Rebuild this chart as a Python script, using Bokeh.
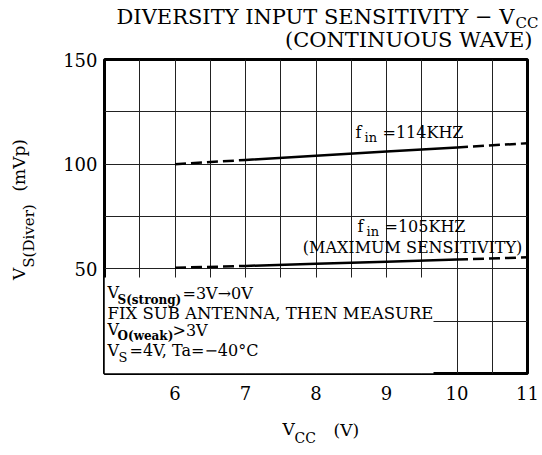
import math
from bokeh.plotting import figure
from bokeh.layouts import column, row
from bokeh.models import Range1d, FixedTicker, SingleIntervalTicker
from bokeh.core.properties import value
from bokeh.embed import file_html
from bokeh.resources import INLINE

# ---- data ----
vcc = [6, 7, 8, 9, 10, 11]
vs_114k = [100.0, 102.0, 104.0, 106.0, 108.0, 110.0]
vs_105k = [50.5, 51.4, 52.4, 53.4, 54.4, 55.5]
x_tick_labels = [6, 7, 8, 9, 10, 11]
y_tick_labels = [50, 100, 150]

FONT = "DejaVu Serif"

TOTAL_W = 540
TOP_H = 51
MID_H = 359
BOT_H = 42
LEFT_W = 48
MAIN_W = TOTAL_W - LEFT_W
BL, BR, BT, BB = 56, 13, 8, 37


def text_fig(w, h):
    f = figure(width=w, height=h, output_backend="svg", toolbar_location=None,
               x_range=Range1d(0, w), y_range=Range1d(0, h),
               x_axis_location=None, y_axis_location=None,
               min_border=0, min_border_left=0, min_border_right=0,
               min_border_top=0, min_border_bottom=0)
    f.grid.visible = False
    f.outline_line_color = None
    f.background_fill_color = "white"
    f.border_fill_color = "white"
    return f


def put(f, ox, oy, h, txt, px, py, size="16px", align="left", angle=0.0, style="normal"):
    f.text(x=[px - ox], y=[h - (py - oy)], text=[txt], text_font=value(FONT),
           text_font_size=value(size), text_align=align, text_baseline="middle",
           angle=angle, text_color="black", text_font_style=value(style))


# ---- title ----
top = text_fig(TOTAL_W, TOP_H)
put(top, 0, 0, TOP_H, "DIVERSITY INPUT SENSITIVITY \u2212 V", 514, 16, size="21px", align="right")
put(top, 0, 0, TOP_H, "CC", 515, 22, size="15px")
put(top, 0, 0, TOP_H, "(CONTINUOUS WAVE)", 532, 39, size="21px", align="right")

# ---- y axis title ----
left = text_fig(LEFT_W, MID_H)
put(left, 0, TOP_H, MID_H, "V", 18, 303, size="17px", angle=math.pi / 2)
put(left, 0, TOP_H, MID_H, "S(Diver)", 28, 289, size="15px", angle=math.pi / 2)
put(left, 0, TOP_H, MID_H, "(mVp)", 18, 202, size="17px", angle=math.pi / 2)

# ---- main chart ----
p = figure(width=MAIN_W, height=MID_H, output_backend="svg", toolbar_location=None,
           x_range=Range1d(5, 11), y_range=Range1d(0, 150),
           min_border_left=BL, min_border_right=BR, min_border_top=BT,
           min_border_bottom=BB)
p.background_fill_color = "white"
p.border_fill_color = "white"
p.outline_line_color = "black"
p.outline_line_width = 3
p.outline_line_alpha = 1

for ax in (p.xaxis[0], p.yaxis[0]):
    ax.axis_line_color = None
    ax.major_tick_line_color = None
    ax.minor_tick_line_color = None
    ax.major_tick_out = 0
    ax.major_tick_in = 0
    ax.major_label_text_font = FONT
    ax.major_label_text_font_size = "18px"
    ax.major_label_text_color = "black"
p.xaxis.ticker = FixedTicker(ticks=x_tick_labels)
p.yaxis.ticker = FixedTicker(ticks=y_tick_labels)
p.xaxis.major_label_standoff = 12
p.yaxis.major_label_standoff = 7

p.xgrid.ticker = SingleIntervalTicker(interval=0.5)
p.ygrid.ticker = SingleIntervalTicker(interval=25)
for g in (p.xgrid[0], p.ygrid[0]):
    g.grid_line_color = "#222222"
    g.grid_line_width = 1
    g.grid_line_alpha = 1

# page-pixel -> data helpers (text placement only)
FX0, FX1 = LEFT_W + BL, TOTAL_W - BR
FY0, FY1 = TOP_H + BT, TOP_H + MID_H - BB


def dx(px):
    return 5 + (px - FX0) / (FX1 - FX0) * 6


def dy(py):
    return (FY1 - py) / (FY1 - FY0) * 150


# white note box
p.quad(left=[5], right=[dx(433)], bottom=[0], top=[dy(277)],
       fill_color="white", line_color=None)

# curves: dashed ends, solid middle
for ys in (vs_114k, vs_105k):
    p.line(vcc[1:5], ys[1:5], line_color="black", line_width=2.5)
    p.line(vcc[0:2], ys[0:2], line_color="black", line_width=2.5, line_dash="11 5")
    p.line(vcc[4:6], ys[4:6], line_color="black", line_width=2.5, line_dash="11 5")


def lab(txt, px, py, size="16px", align="left", style="normal"):
    p.text(x=[dx(px)], y=[dy(py)], text=[txt], text_font=value(FONT),
           text_font_size=value(size), text_align=align, text_baseline="middle",
           text_color="black", text_font_style=value(style))


lab("f", 355, 132)
lab("in", 364, 137, size="13px")
lab("=114KHZ", 382, 132)
lab("f", 357, 226)
lab("in", 366, 231, size="13px")
lab("=105KHZ", 384, 226)
lab("(MAXIMUM SENSITIVITY)", 412, 247, align="center")

lab("V", 107, 292)
lab("S(strong)", 117, 299, size="12px", style="bold")
lab("=3V\u21920V", 182, 293)
lab("FIX SUB ANTENNA, THEN MEASURE", 107, 313, size="16.5px")
lab("V", 107, 329)
lab("O(weak)", 117, 335, size="12px", style="bold")
lab(">3V", 172, 330)
lab("V", 107, 350)
lab("S", 118, 357, size="13px")
lab("=4V, Ta=\u221240\u00b0C", 129, 350)

# ---- x axis title ----
bot = text_fig(TOTAL_W, BOT_H)
oy = TOP_H + MID_H
put(bot, 0, oy, BOT_H, "V", 282, 428, size="17px")
put(bot, 0, oy, BOT_H, "CC", 294, 437, size="14px")
put(bot, 0, oy, BOT_H, "(V)", 333, 429, size="17px")

layout = column(top, row(left, p), bot)
open("out.html", "w").write(file_html(layout, INLINE))
